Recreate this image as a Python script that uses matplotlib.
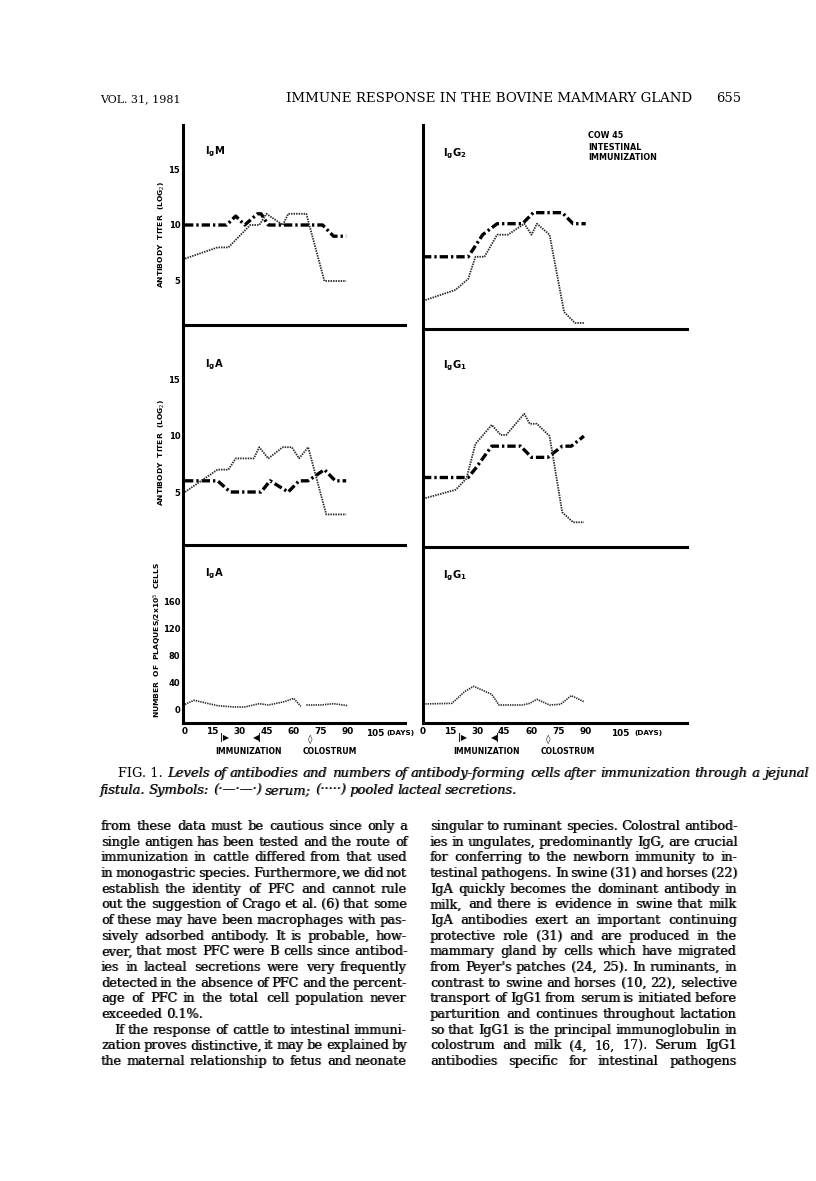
import matplotlib
matplotlib.use('Agg')
import matplotlib.pyplot as plt
import numpy as np

W, H = 816, 1181
SANS = 'DejaVu Sans'
SERIF = 'DejaVu Serif'

# ---------------- data (days, values) ----------------
igm_serum_days = [0, 23, 28, 33, 40, 42, 46, 76, 82, 89]
igm_serum_vals = [10, 10, 10.8, 10, 11, 11, 10, 10, 9, 9]
igm_milk_days = [0, 18, 24, 36, 41, 45, 54, 57, 67, 77, 89]
igm_milk_vals = [7, 8, 8, 10, 10, 11, 10, 11, 11, 5, 5]

igg2_serum_days = [0, 25, 33, 41, 55, 61, 77, 83, 90]
igg2_serum_vals = [7, 7, 9, 10, 10, 11, 11, 10, 10]
igg2_milk_days = [0, 18, 25, 29, 34, 41, 47, 56, 60, 63, 70, 78, 84, 89]
igg2_milk_vals = [3, 4, 5, 7, 7, 9, 9, 10, 9, 10, 9, 2, 1, 1]

iga_serum_days = [0, 18, 25, 42, 47, 57, 63, 68, 77, 83, 89]
iga_serum_vals = [6, 6, 5, 5, 6, 5, 6, 6, 7, 6, 6]
iga_milk_days = [0, 18, 24, 28, 38, 41, 46, 54, 59, 63, 68, 78, 89]
iga_milk_vals = [5, 7, 7, 8, 8, 9, 8, 9, 9, 8, 9, 3, 3]

igg1_serum_days = [0, 25, 29, 38, 54, 60, 69, 77, 82, 89]
igg1_serum_vals = [6.3, 6.3, 7.1, 9.1, 9.1, 8.1, 8.1, 9.1, 9.1, 10]
igg1_milk_days = [0, 18, 24, 29, 38, 43, 46, 56, 59, 63, 70, 77, 83, 89]
igg1_milk_vals = [4.4, 5.2, 6.2, 9.3, 11, 10.1, 10.1, 12, 11.1, 11.1, 10, 3.2, 2.3, 2.3]

iga_pfc_days = [0, 5, 18, 27, 33, 41, 46, 55, 60, 64, 65.5, 67, 75, 82, 90]
iga_pfc_vals = [7, 13, 5, 3, 3, 8, 6, 11, 16, 4, np.nan, 6, 6, 8, 5]
igg1_pfc_days = [0, 16, 23, 28, 38, 42, 55, 59, 63, 70, 76, 82, 89]
igg1_pfc_vals = [7.5, 8.5, 26, 34, 22, 6, 6, 8.5, 14.5, 6, 7, 20, 11]

titer_ticks = [5, 10, 15]
pfc_ticks = [0, 40, 80, 120, 160]
day_ticks = [0, 15, 30, 45, 60, 75, 90]
last_day_tick = 105
immunization_days = [22, 40]
colostrum_day = 69

# ---------------- figure ----------------
fig = plt.figure(figsize=(W / 100, H / 100), dpi=100)
renderer = fig.canvas.get_renderer()


def add_ax(l, r, t, b):
    return fig.add_axes([l / W, 1 - b / H, (r - l) / W, (b - t) / H])


def ftext(x, y, s, **kw):
    return fig.text(x / W, 1 - y / H, s, **kw)


def width_of(s, **kw):
    t = fig.text(0, 0, s, **kw)
    w = t.get_window_extent(renderer).width
    t.remove()
    return w


def fit_text(x0, x1, y, s, base=9, **kw):
    w = width_of(s, size=base, **kw)
    size = base * (x1 - x0) / w
    ftext(x0, y, s, size=size, ha='left', va='baseline', **kw)
    return size


SERUM = dict(color='black', lw=2.4, linestyle=(0, (2.5, 0.9, 0.7, 0.9)),
             dash_capstyle='butt')
MILK = dict(color='#262626', lw=1.3, linestyle=(0, (0.8, 0.6)))
PFC = dict(color='#262626', lw=1.2, linestyle=(0, (0.8, 0.6)))
TICKFONT = dict(family=SANS, weight='bold', size=6.0)
XTICKFONT = dict(family=SANS, weight='bold', size=6.4)


def style(ax, xlim, ylim, yticks=None):
    ax.set_xlim(*xlim)
    ax.set_ylim(*ylim)
    for s in ['top', 'right']:
        ax.spines[s].set_visible(False)
    for s in ['left', 'bottom']:
        ax.spines[s].set_linewidth(2.2)
    ax.set_xticks([])
    if yticks:
        ax.set_yticks(yticks)
        ax.set_yticklabels([str(v) for v in yticks], **TICKFONT)
        ax.tick_params(axis='y', length=0, pad=2)
    else:
        ax.set_yticks([])
    ax.patch.set_alpha(0)


LX = (-1.1, 121.5)
RX = (0.0, 146.0)

# top row
ax1 = add_ax(183, 405, 125, 325)
style(ax1, LX, (1.07, 18.93), titer_ticks)
ax1.plot(igm_serum_days, igm_serum_vals, **SERUM)
ax1.plot(igm_milk_days, igm_milk_vals, **MILK)

ax2 = add_ax(423, 687, 125, 329)
style(ax2, RX, (0.45, 18.95))
ax2.plot(igg2_serum_days, igg2_serum_vals, **SERUM)
ax2.plot(igg2_milk_days, igg2_milk_vals, **MILK)

# middle row
ax3 = add_ax(183, 405, 328, 545)
style(ax3, LX, (0.27, 19.64), titer_ticks)
ax3.plot(iga_serum_days, iga_serum_vals, **SERUM)
ax3.plot(iga_milk_days, iga_milk_vals, **MILK)

ax4 = add_ax(423, 687, 332, 547)
style(ax4, RX, (0.09, 19.3))
ax4.plot(igg1_serum_days, igg1_serum_vals, **SERUM)
ax4.plot(igg1_milk_days, igg1_milk_vals, **MILK)

# bottom row
ax5 = add_ax(183, 405, 548, 723)
style(ax5, LX, (-20.9, 240.7), pfc_ticks)
ax5.plot(iga_pfc_days, iga_pfc_vals, **PFC)

ax6 = add_ax(423, 687, 550, 723)
style(ax6, RX, (-20.9, 237.7))
ax6.plot(igg1_pfc_days, igg1_pfc_vals, **PFC)

MARK = dict(textcoords='offset pixels', ha='center', va='center',
            family=SANS, weight='bold', annotation_clip=False)
for ax, day105, days_off in [(ax5, 105, 11), (ax6, 109, 14)]:
    ax.set_xticks(day_ticks)
    ax.set_xticklabels([str(d) for d in day_ticks], **XTICKFONT)
    ax.tick_params(axis='x', length=0, pad=3)
    tr = ax.get_xaxis_transform()
    ax.annotate(str(last_day_tick), xy=(day105, 0), xycoords=tr,
                xytext=(0, -10), **dict(MARK, size=6.4))
    ax.annotate('(DAYS)', xy=(day105, 0), xycoords=tr,
                xytext=(days_off, -10), **dict(MARK, ha='left', size=5.2))
    ax.annotate('|\u25b6', xy=(immunization_days[0], 0), xycoords=tr,
                xytext=(0, -15), **dict(MARK, size=5.8))
    ax.annotate('\u25c0|', xy=(immunization_days[1], 0), xycoords=tr,
                xytext=(0, -15), **dict(MARK, size=5.8))
    ax.annotate('\u25ca', xy=(colostrum_day, 0), xycoords=tr,
                xytext=(0, -16), **dict(MARK, size=6.5))
    ax.annotate('IMMUNIZATION', xy=(sum(immunization_days) / 2 + 4, 0),
                xycoords=tr, xytext=(0, -28), **dict(MARK, size=5.6))
    ax.annotate('COLOSTRUM', xy=(colostrum_day + 11, 0), xycoords=tr,
                xytext=(0, -29), **dict(MARK, size=5.6))

# panel labels
LBL = dict(family=SANS, size=7.2, ha='left', va='center')
ftext(205, 152, r'$\mathbf{I_gM}$', **LBL)
ftext(443, 154, r'$\mathbf{I_gG_2}$', **LBL)
ftext(205, 365, r'$\mathbf{I_gA}$', **LBL)
ftext(443, 366, r'$\mathbf{I_gG_1}$', **LBL)
ftext(205, 574, r'$\mathbf{I_gA}$', **LBL)
ftext(443, 576, r'$\mathbf{I_gG_1}$', **LBL)

SMALLB = dict(family=SANS, weight='bold', size=5.8, ha='left', va='center')
ftext(588, 136, 'COW 45', **SMALLB)
ftext(588, 147, 'INTESTINAL', **SMALLB)
ftext(588, 157, 'IMMUNIZATION', **SMALLB)

YL = dict(family=SANS, weight='bold', size=5.4, ha='center', va='center',
          rotation=90)
ftext(162, 234, r'ANTIBODY  TITER  (LOG$_2$)', **YL)
ftext(162, 452, r'ANTIBODY  TITER  (LOG$_2$)', **YL)
ftext(158, 640, r'NUMBER  OF  PLAQUES/2x10$^5$  CELLS', **YL)


# ---------------- page text ----------------
def justify(x0, x1, y, line, just=True, min_gap_frac=0.55, heavy=True, **kw):
    kw = dict(kw)
    words = line.split(' ')
    for _ in range(4):
        widths = [width_of(w, **kw) for w in words]
        space = width_of('a a', **kw) - width_of('aa', **kw)
        if not just or len(words) < 2:
            gap = space
            break
        gap = (x1 - x0 - sum(widths)) / (len(words) - 1)
        if gap >= min_gap_frac * space:
            break
        need = sum(widths) + (len(words) - 1) * min_gap_frac * space
        kw['size'] = kw['size'] * (x1 - x0) / need
    x = x0
    for w, wd in zip(words, widths):
        xr = round(x)
        ftext(xr, y, w, ha='left', va='baseline', **kw)
        if heavy:  # second pass one pixel over, to mimic the dark print
            ftext(xr + 1.0, y, w, ha='left', va='baseline', alpha=0.55, **kw)
        x += wd + gap


def best_size(lines, target, fam_kw, base=9.0, fill=0.985):
    ratios = [target / width_of(l, size=base, **fam_kw) for l in lines]
    return base * float(np.median(ratios)) * fill


# header
fit_text(100, 180, 102, 'VOL. 31, 1981', family=SERIF)
fit_text(286, 692, 102, 'IMMUNE RESPONSE IN THE BOVINE MAMMARY GLAND',
         family=SERIF)
fit_text(716, 741, 102, '655', family=SERIF)

# caption
cap1 = ('Levels of antibodies and numbers of antibody-forming cells after '
        'immunization through a jejunal')
cap2 = ('fistula. Symbols: (\u00b7\u2014\u00b7\u2014\u00b7) serum; '
        '(\u00b7\u00b7\u00b7\u00b7\u00b7) pooled lacteal secretions.')
cap_fam = dict(family=SERIF, style='italic')
fig_w0 = width_of('FIG. 1. ', family=SERIF, size=9.0)
cap_size = best_size([cap1], 808 - 118 - fig_w0, cap_fam, fill=0.99)
CAPI = dict(cap_fam, size=cap_size)
ftext(118, 777, 'FIG. 1.', family=SERIF, size=cap_size, ha='left',
      va='baseline')
fw = width_of('FIG. 1. ', family=SERIF, size=cap_size)
justify(118 + fw, 808, 777, cap1, **CAPI)
justify(100, 517, 794, cap2, **CAPI)

left_col = [
    ('from these data must be cautious since only a', True, 0),
    ('single antigen has been tested and the route of', True, 0),
    ('immunization in cattle differed from that used', True, 0),
    ('in monogastric species. Furthermore, we did not', True, 0),
    ('establish the identity of PFC and cannot rule', True, 0),
    ('out the suggestion of Crago et al. (6) that some', True, 0),
    ('of these may have been macrophages with pas-', True, 0),
    ('sively adsorbed antibody. It is probable, how-', True, 0),
    ('ever, that most PFC were B cells since antibod-', True, 0),
    ('ies in lacteal secretions were very frequently', True, 0),
    ('detected in the absence of PFC and the percent-', True, 0),
    ('age of PFC in the total cell population never', True, 0),
    ('exceeded 0.1%.', False, 0),
    ('If the response of cattle to intestinal immuni-', True, 13),
    ('zation proves distinctive, it may be explained by', True, 0),
    ('the maternal relationship to fetus and neonate', True, 0),
]
right_col = [
    'singular to ruminant species. Colostral antibod-',
    'ies in ungulates, predominantly IgG, are crucial',
    'for conferring to the newborn immunity to in-',
    'testinal pathogens. In swine (31) and horses (22)',
    'IgA quickly becomes the dominant antibody in',
    'milk, and there is evidence in swine that milk',
    'IgA antibodies exert an important continuing',
    'protective role (31) and are produced in the',
    'mammary gland by cells which have migrated',
    "from Peyer's patches (24, 25). In ruminants, in",
    'contrast to swine and horses (10, 22), selective',
    'transport of IgG1 from serum is initiated before',
    'parturition and continues throughout lactation',
    'so that IgG1 is the principal immunoglobulin in',
    'colostrum and milk (4, 16, 17). Serum IgG1',
    'antibodies specific for intestinal pathogens',
]
body_fam = dict(family=SERIF)
full_lines = [l for l, j, ind in left_col if j and ind == 0] + right_col
body_size = best_size(full_lines, 306, body_fam, fill=0.985)
BODY = dict(body_fam, size=body_size)
y0 = 830
dy = 15.67
for i, (line, j, ind) in enumerate(left_col):
    justify(101 + ind, 407, y0 + i * dy, line, just=j, **BODY)
for i, line in enumerate(right_col):
    justify(430, 737, y0 + i * dy, line, just=True, **BODY)

fig.savefig('out.png', dpi=100)
